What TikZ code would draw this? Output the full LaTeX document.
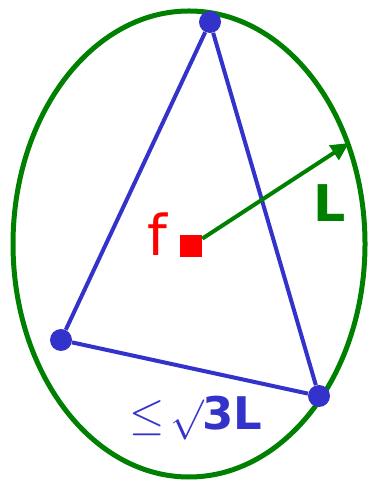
\documentclass[tikz,border=0pt]{standalone}
\usepackage{fontspec}
\setmainfont{DejaVu Sans}
\usepackage{amsmath, amssymb}
\usepackage{graphicx}
\usetikzlibrary{arrows.meta}
\definecolor{dgreen}{RGB}{0,128,0}
\definecolor{tblue}{RGB}{51,51,204}

\begin{document}
\begin{tikzpicture}[scale=1.0,
  vertex/.style={circle, fill=tblue, inner sep=0pt, minimum size=0.55cm},
  side/.style={draw=tblue, line width=0.1cm}]
  \useasboundingbox (0,0) rectangle (9.3,12.05);

  % enclosing ellipse
  \draw[dgreen, line width=0.125cm] (4.725,5.95) ellipse (4.4 and 5.825);

  % triangle corners
  \node[vertex] (top) at (5.25,11.5) {};
  \node[vertex] (left) at (1.525,3.55) {};
  \node[vertex] (right) at (7.975,2.15) {};

  % triangle sides
  \draw[side] (top) -- (left) -- (right) -- (top);

  % point f
  \node[rectangle, fill=red, inner sep=0pt, minimum size=0.55cm] (f) at (4.775,5.9) {};
  \node[red, font=\fontsize{40}{40}\selectfont] (flabel) at (3.925,6.2) {f};

  % radius L
  \coordinate (tip) at (8.725,8.475);
  \draw[dgreen, line width=0.1cm, -{Triangle[length=0.45cm, width=0.42cm]}] (f) -- (tip);
  \node[dgreen, font=\bfseries\fontsize{36}{36}\selectfont] (rlabel) at (8.25,6.975) {L};

  % side bound
  \node[tblue, font=\fontsize{32}{32}\selectfont] (bound) at (4.9,1.6)
    {\scalebox{1.3}{$\leq$}\kern4pt\scalebox{1.15}{$\surd$}\kern-1pt\textbf{3L}};
\end{tikzpicture}
\end{document}
